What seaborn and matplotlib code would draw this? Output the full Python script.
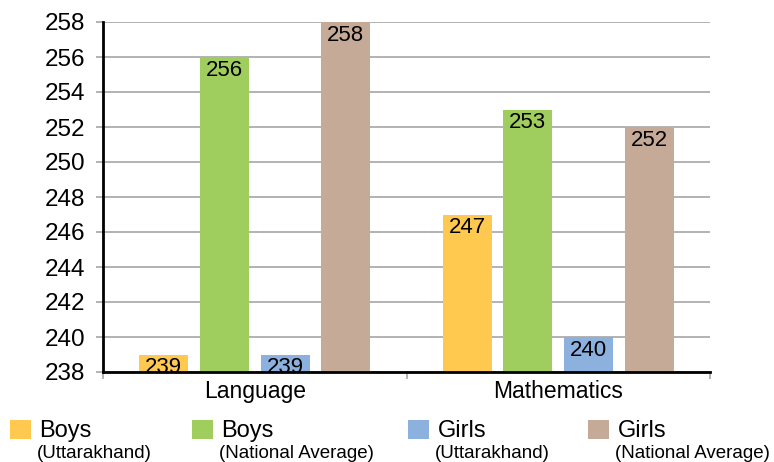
import pandas as pd
import matplotlib.pyplot as plt
import seaborn as sns

# data
subjects = ["Language", "Mathematics"]
groups = ["Boys (Uttarakhand)", "Boys (National Average)",
          "Girls (Uttarakhand)", "Girls (National Average)"]
boys_uk = [239, 247]
boys_nat = [256, 253]
girls_uk = [239, 240]
girls_nat = [258, 252]

colors = ["#FFC94F", "#A0CE5E", "#8DB1DE", "#C6AA98"]

df = pd.DataFrame({
    "subject": subjects * 4,
    "group": [g for g in groups for _ in subjects],
    "score": boys_uk + boys_nat + girls_uk + girls_nat,
})

sns.set_style("white")
plt.rcParams["font.family"] = ["Liberation Sans", "DejaVu Sans"]
plt.rcParams["text.color"] = "black"

fig = plt.figure(figsize=(7.74, 4.62), dpi=100)
ax = fig.add_axes([103 / 774, 1 - 372 / 462, 607 / 774, 350 / 462])

sns.barplot(data=df, x="subject", y="score", hue="group", hue_order=groups,
            palette=colors, width=0.8, gap=0.19, saturation=1, linewidth=0,
            legend=False, ax=ax)

ax.set_ylim(238, 258)
ax.set_yticks(range(238, 259, 2))
ax.set_xlim(-0.5, 1.5)
ax.set_xlabel("")
ax.set_ylabel("")

ax.yaxis.grid(True, color="#A6A6A6", linewidth=1.2)
ax.set_axisbelow(True)
for s in ["top", "right"]:
    ax.spines[s].set_visible(False)
for s in ["left", "bottom"]:
    ax.spines[s].set_color("black")
    ax.spines[s].set_linewidth(2)
ax.spines["bottom"].set_zorder(5)

ax.tick_params(axis="y", which="major", length=5, width=1.2, color="#A6A6A6",
               labelsize=17.5, pad=8, left=True, labelcolor="black")
ax.tick_params(axis="x", which="major", length=0, labelsize=16.5, pad=6,
               labelcolor="black")
ax.set_xticks([-0.5, 0.5, 1.5], minor=True)
ax.tick_params(axis="x", which="minor", length=5, width=1.2, color="#A6A6A6",
               bottom=True)

for c in ax.containers:
    labels = ax.bar_label(c, fmt="%d", padding=-2, fontsize=16, color="black")
    for t in labels:
        t.set_va("top")

# legend, one entry per series so spacing can follow the reference
names = ["Boys", "Boys", "Girls", "Girls"]
subs = ["(Uttarakhand)", "(National Average)", "(Uttarakhand)", "(National Average)"]
xs = [10, 192, 408, 588]
for c, name, sub, x in zip(ax.containers, names, subs, xs):
    fig.legend([c.patches[0]], [name], loc="center left",
               bbox_to_anchor=(x / 774, 1 - 431 / 462), frameon=False,
               fontsize=17, borderpad=0, borderaxespad=0,
               handlelength=0.9, handleheight=0.9, handletextpad=0.35,
               labelcolor="black")
    fig.text((x + 27) / 774, 1 - 453 / 462, sub, fontsize=13.5, va="center",
             color="black")

fig.savefig("out.png", dpi=100)
